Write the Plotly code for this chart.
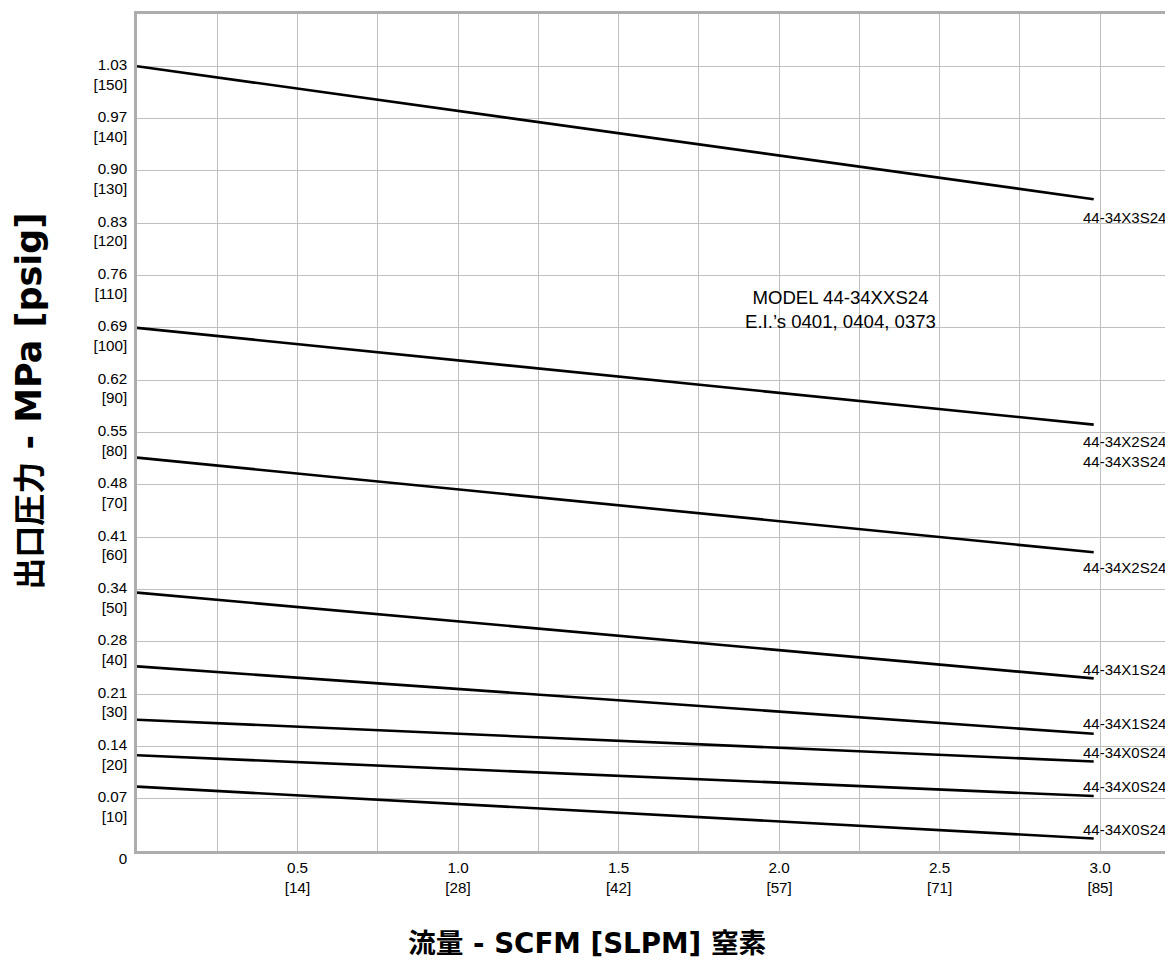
import plotly.graph_objects as go

# ---- data ----
flow_scfm = [0.0, 2.98]
curve_psig = [
    [150.0, 124.6],   # 44-34X3S24
    [100.0, 81.5],    # 44-34X2S24 / X3S24
    [75.2, 57.1],     # 44-34X2S24
    [49.4, 33.0],     # 44-34X1S24
    [35.3, 22.4],     # 44-34X1S24
    [25.1, 17.1],     # 44-34X0S24
    [18.3, 10.5],     # 44-34X0S24
    [12.3, 2.4],      # 44-34X0S24
]
curve_labels = ["44-34X3S24", "44-34X2S24<br>44-34X3S24", "44-34X2S24", "44-34X1S24",
                "44-34X1S24", "44-34X0S24", "44-34X0S24", "44-34X0S24"]
label_psig = [121.1, 76.3, 54.2, 34.7, 24.4, 18.9, 12.3, 4.2]

y_tick_psig = [0, 10, 20, 30, 40, 50, 60, 70, 80, 90, 100, 110, 120, 130, 140, 150]
y_tick_mpa = ["0", "0.07", "0.14", "0.21", "0.28", "0.34", "0.41", "0.48", "0.55",
              "0.62", "0.69", "0.76", "0.83", "0.90", "0.97", "1.03"]
x_tick_scfm = [0.5, 1.0, 1.5, 2.0, 2.5, 3.0]
x_tick_slpm = ["14", "28", "42", "57", "71", "85"]

# page body has an 8px margin; lay the figure out in screen pixels minus that offset
OFF = 8
W, H = 1173 - OFF, 968 - OFF
L, T = 137 - OFF, 14 - OFF
B = H - (851.5 - OFF)
R = 0
PW, PH = W - L - R, H - T - B

FONT = "Liberation Sans, Arial, sans-serif"
TITLE_FONT = "DejaVu Sans, Noto Sans CJK JP, sans-serif"
GRID = "#bfbfbf"
AXIS = "#adadad"


def paper_x(sx):
    return (sx - OFF - L) / PW


def paper_y(sy):
    return (H - (sy - OFF) - B) / PH


fig = go.Figure()
for ys in curve_psig:
    fig.add_trace(go.Scatter(x=flow_scfm, y=ys, mode="lines",
                             line=dict(color="black", width=2.6),
                             showlegend=False, hoverinfo="skip"))

for txt, yv in zip(curve_labels, label_psig):
    fig.add_annotation(x=2.941, y=yv, xref="x", yref="y", text=txt, showarrow=False,
                       xanchor="left", yanchor="middle", align="left",
                       font=dict(family=FONT, size=15, color="black"))

fig.add_annotation(x=2.19, y=103.5, xref="x", yref="y",
                   text="MODEL 44-34XXS24<br>E.I.’s 0401, 0404, 0373", showarrow=False,
                   xanchor="center", yanchor="middle", align="center",
                   font=dict(family=FONT, size=18.6, color="black"))

y_text = [t if p == 0 else f"{t}<br>[{p}]" for t, p in zip(y_tick_mpa, y_tick_psig)]
x_text = [f"{v:.1f}<br>[{s}]" for v, s in zip(x_tick_scfm, x_tick_slpm)]

fig.update_xaxes(range=[0, 3.227], tickvals=x_tick_scfm, ticktext=x_text,
                 showgrid=True, gridcolor=GRID, gridwidth=1.3,
                 minor=dict(dtick=0.25, tick0=0, showgrid=True, gridcolor=GRID, gridwidth=1.3),
                 showline=True, linecolor=AXIS, linewidth=2.5, mirror=True,
                 zeroline=False, ticks="", ticklabelstandoff=1,
                 tickfont=dict(family=FONT, size=15.2, color="black"),
                 fixedrange=True)
fig.update_yaxes(range=[0, 160], tickvals=y_tick_psig, ticktext=y_text,
                 showgrid=True, gridcolor=GRID, gridwidth=1.3,
                 showline=True, linecolor=AXIS, linewidth=2.5, mirror=False,
                 zeroline=False, ticks="", ticklabelshift=8, ticklabelstandoff=4,
                 tickfont=dict(family=FONT, size=15.2, color="black"),
                 fixedrange=True)

# axis titles
fig.add_annotation(x=paper_x(587), y=paper_y(944), xref="paper", yref="paper",
                   xanchor="center", yanchor="middle",
                   text="<b>流量 - SCFM [SLPM] 窒素</b>",
                   showarrow=False, font=dict(family=TITLE_FONT, size=27.7, color="black"))
fig.add_annotation(x=paper_x(29), y=paper_y(402), xref="paper", yref="paper",
                   xanchor="center", yanchor="middle",
                   text="<b><span style='font-size:32px'>出口圧力</span> - MPa [psig]</b>",
                   textangle=-90, showarrow=False,
                   font=dict(family=TITLE_FONT, size=35, color="black"))

fig.update_layout(width=W, height=H, margin=dict(l=L, r=R, t=T, b=B, pad=0),
                  plot_bgcolor="white", paper_bgcolor="white", showlegend=False)

fig.write_html("out.html", config={"displayModeBar": False})
